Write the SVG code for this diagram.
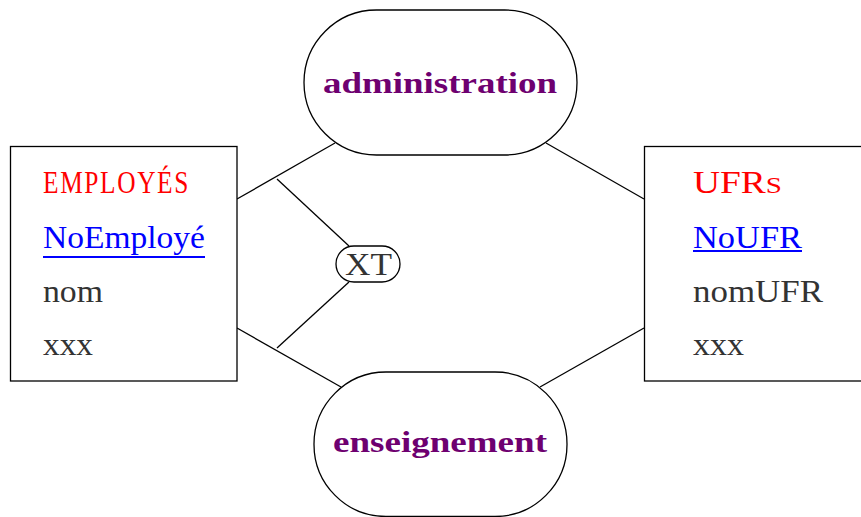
<svg xmlns="http://www.w3.org/2000/svg" width="861" height="517" viewBox="0 0 861 517">
<style>
.box{fill:#fff;stroke:#000;stroke-width:1.3}
.conn line{stroke:#000;stroke-width:1.3}
text{font-family:"Liberation Serif","DejaVu Serif",serif;font-size:31px}
.attr{fill:#333}
.title{fill:#ff0000}
.key{fill:#0000ff}
.rel{fill:#6e0070;font-weight:bold;font-size:30px}
.ul{stroke:#0000ff;stroke-width:2}
</style>
<rect width="861" height="517" fill="#fff"/>
<g id="connectors" class="conn">
<line x1="237" y1="199" x2="335" y2="143"/>
<line x1="237" y1="328" x2="341" y2="387"/>
<line x1="546" y1="143" x2="644" y2="199"/>
<line x1="540" y1="387" x2="644" y2="328"/>
<line x1="277" y1="179" x2="349" y2="246"/>
<line x1="349" y1="282" x2="277" y2="348"/>
</g>
<g id="employes">
<rect class="box" x="10.5" y="146.5" width="226.5" height="234.5"/>
<text class="title" x="43" y="193" font-size="22" letter-spacing="2" textLength="147" lengthAdjust="spacingAndGlyphs">EMPLOYÉS</text>
<text class="key" x="43" y="248" textLength="162" lengthAdjust="spacingAndGlyphs">NoEmployé</text>
<line class="ul" x1="43" y1="257" x2="205" y2="257"/>
<text class="attr" x="43" y="302" textLength="60" lengthAdjust="spacingAndGlyphs">nom</text>
<text class="attr" x="43" y="355" textLength="50" lengthAdjust="spacingAndGlyphs">xxx</text>
</g>
<g id="ufrs">
<rect class="box" x="644.5" y="146.5" width="230" height="234.5"/>
<text class="title" x="693" y="193" textLength="89" lengthAdjust="spacingAndGlyphs">UFR<tspan font-size="24">S</tspan></text>
<text class="key" x="693" y="248" textLength="109" lengthAdjust="spacingAndGlyphs">NoUFR</text>
<line class="ul" x1="693" y1="251" x2="802" y2="251"/>
<text class="attr" x="693" y="302" textLength="130" lengthAdjust="spacingAndGlyphs">nomUFR</text>
<text class="attr" x="693" y="355" textLength="51" lengthAdjust="spacingAndGlyphs">xxx</text>
</g>
<g id="administration">
<rect class="box" x="304" y="10" width="273" height="145" rx="72.5"/>
<text class="rel" x="323" y="93" textLength="234" lengthAdjust="spacingAndGlyphs">administration</text>
</g>
<g id="enseignement">
<rect class="box" x="314" y="372" width="253" height="144.5" rx="72"/>
<text class="rel" x="333" y="452" textLength="214" lengthAdjust="spacingAndGlyphs">enseignement</text>
</g>
<g id="xt">
<rect class="box" x="336" y="246" width="64" height="36" rx="18"/>
<text class="attr" x="345" y="275" textLength="47" lengthAdjust="spacingAndGlyphs">XT</text>
</g>
</svg>
